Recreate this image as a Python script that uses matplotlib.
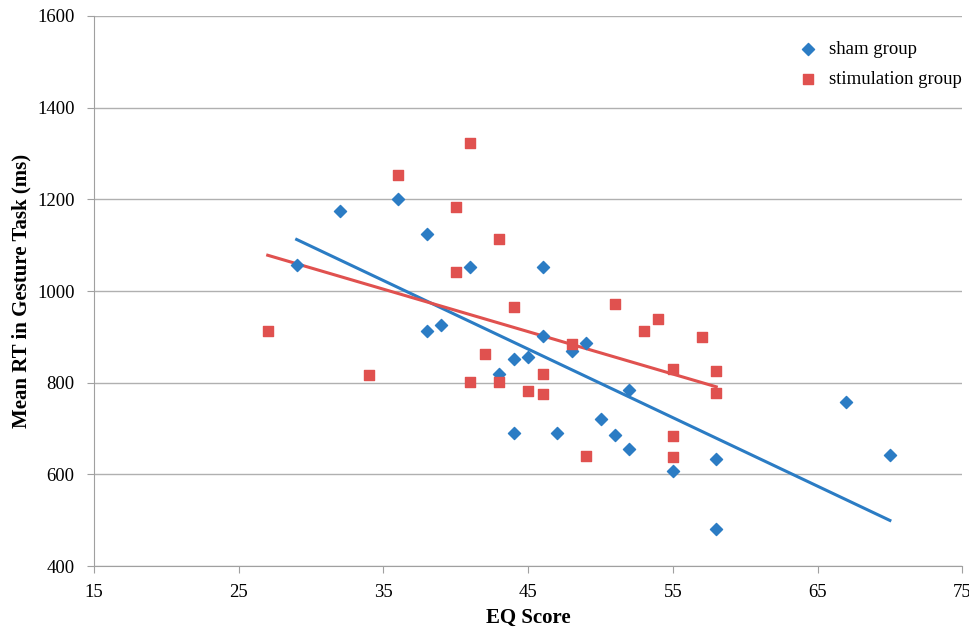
import matplotlib.pyplot as plt
import numpy as np

plt.rcParams['font.family'] = ['Liberation Serif', 'DejaVu Serif']

# sham group (blue diamonds)
sham_eq = [29, 32, 36, 38, 38, 39, 41, 43, 44, 44, 45, 46, 46, 47, 48,
           49, 50, 51, 52, 52, 55, 58, 58, 67, 70]
sham_rt = [1057, 1175, 1200, 1125, 913, 927, 1052, 820, 852, 690, 857, 1052, 903, 690, 870,
           887, 721, 687, 655, 784, 607, 634, 481, 759, 643]

# stimulation group (red squares)
stim_eq = [27, 34, 36, 40, 40, 41, 41, 42, 43, 43, 44, 45, 46, 46, 48,
           49, 51, 53, 54, 55, 55, 55, 57, 58, 58]
stim_rt = [913, 817, 1253, 1183, 1041, 1323, 802, 862, 1113, 802, 965, 782, 820, 775, 884,
           640, 971, 912, 940, 829, 684, 638, 900, 826, 778]

blue = '#2b7cc4'
red = '#e0514f'

fig = plt.figure(figsize=(9.7, 6.29), dpi=100)
ax = fig.add_axes([0.097, 0.1, 0.895, 0.8746])

ax.scatter(sham_eq, sham_rt, marker='D', s=38, color=blue, label='sham group', zorder=3)
ax.scatter(stim_eq, stim_rt, marker='s', s=60, color=red, label='stimulation group', zorder=3)

# linear trend lines
for xs, ys, c in [(sham_eq, sham_rt, blue), (stim_eq, stim_rt, red)]:
    k, b = np.polyfit(xs, ys, 1)
    xx = np.array([min(xs), max(xs)])
    ax.plot(xx, k * xx + b, color=c, lw=2.2, zorder=2)

ax.set_xlim(15, 75)
ax.set_ylim(400, 1600)
ax.set_xticks(np.arange(15, 76, 10))
ax.set_yticks(np.arange(400, 1601, 200))
ax.grid(axis='y', color='#b0b0b0', lw=1)
ax.set_axisbelow(True)
for side in ['top', 'right']:
    ax.spines[side].set_visible(False)
for side in ['left', 'bottom']:
    ax.spines[side].set_color('#a0a0a0')
ax.tick_params(axis='x', direction='out', length=5, color='#a0a0a0', labelsize=13.5, pad=8)
ax.tick_params(axis='y', direction='out', length=5, color='#a0a0a0', labelsize=13.5, pad=9)

ax.set_xlabel('EQ Score', fontsize=15, fontweight='bold', labelpad=5)
ax.set_ylabel('Mean RT in Gesture Task (ms)', fontsize=15, fontweight='bold', labelpad=4)

ax.legend(loc='upper right', bbox_to_anchor=(1.012, 0.975), frameon=False, fontsize=13.5,
          handletextpad=0.1, labelspacing=0.7, borderaxespad=0.2)

fig.savefig('out.png', dpi=100)
